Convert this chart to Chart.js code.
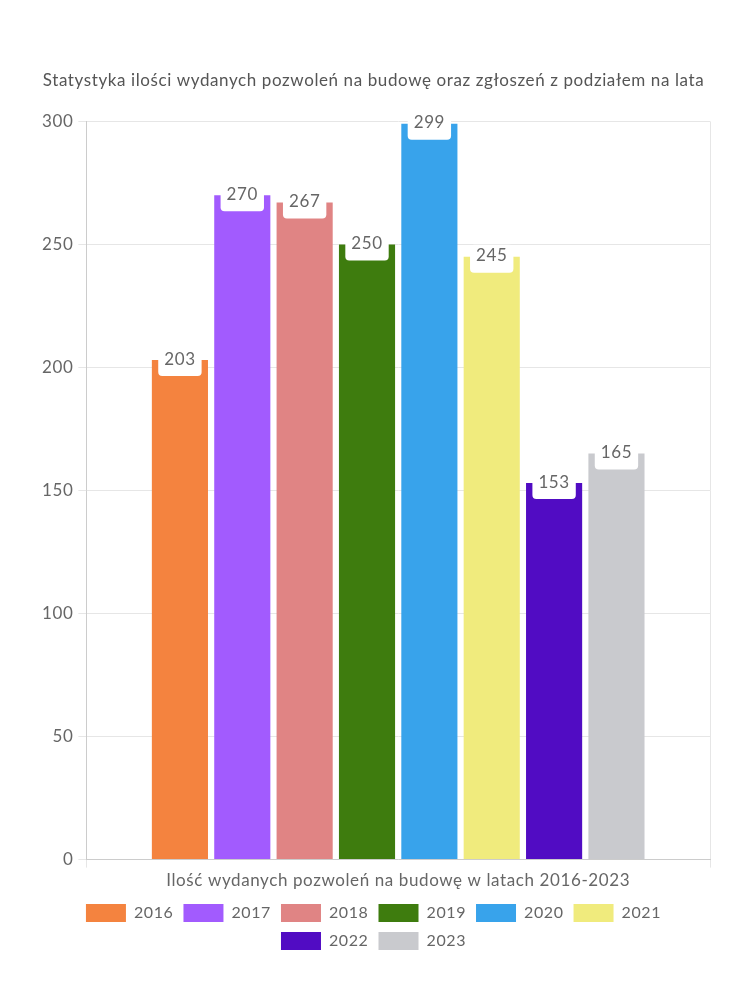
<!DOCTYPE html>
<html><head><meta charset="utf-8">
<script src="https://cdn.jsdelivr.net/npm/chart.js@4/dist/chart.umd.min.js"></script>
<style>html,body{margin:0;padding:0;background:#fff}#wrap{width:750px;height:1000px}</style>
</head><body><div id="wrap"><canvas id="c" width="750" height="1000"></canvas></div>
<script>
const categories = ['Ilość wydanych pozwoleń na budowę w latach 2016-2023'];
const years = ['2016','2017','2018','2019','2020','2021','2022','2023'];
const values = [203, 270, 267, 250, 299, 245, 153, 165];
const colors = ['#f4833f','#a25bfe','#e08484','#3e7c0e','#38a3eb','#f0eb7d','#510cc3','#c9cace'];
const titleText = 'Statystyka ilości wydanych pozwoleń na budowę oraz zgłoszeń z podziałem na lata';

const FONT = 'Lato';
const spacingPlugin = {
  id: 'spacing',
  beforeLayout(chart) { chart.ctx.letterSpacing = '0.6px'; },
  beforeDraw(chart) { chart.ctx.letterSpacing = '0.6px'; }
};
const labelPlugin = {
  id: 'valueLabels',
  afterDatasetsDraw(chart) {
    const ctx = chart.ctx;
    ctx.save();
    ctx.font = '17px ' + FONT;
    ctx.textAlign = 'center';
    ctx.textBaseline = 'middle';
    chart.data.datasets.forEach((ds, i) => {
      const meta = chart.getDatasetMeta(i);
      meta.data.forEach((bar, j) => {
        const txt = String(ds.data[j]);
        const w = ctx.measureText(txt).width + 12;
        const h = 28;
        const x = bar.x, yc = bar.y + 2;
        ctx.fillStyle = '#fff';
        ctx.beginPath();
        ctx.roundRect(x - w/2, yc - h/2, w, h, 4);
        ctx.fill();
        ctx.fillStyle = '#666';
        ctx.fillText(txt, x, bar.y - 1);
      });
    });
    ctx.restore();
  }
};

new Chart(document.getElementById('c'), {
  type: 'bar',
  data: {
    labels: categories,
    datasets: years.map((y, i) => ({ label: y, data: [values[i]], backgroundColor: colors[i] }))
  },
  options: {
    responsive: false,
    animation: false,
    layout: { padding: { top: 70, right: 40, left: 37, bottom: 40 } },
    plugins: {
      title: { display: true, text: titleText, color: '#555', font: { family: FONT, size: 17, weight: 'normal' }, padding: { top: 0, bottom: 31 } },
      legend: { position: 'bottom', labels: { color: '#666', font: { family: FONT, size: 16 }, boxWidth: 40, boxHeight: 18 } },
      tooltip: { enabled: false }
    },
    scales: {
      x: { ticks: { color: '#666', font: { family: FONT, size: 17 } }, grid: { color: '#e6e6e6' }, border: { color: '#ccc' } },
      y: { min: 0, max: 300, ticks: { stepSize: 50, color: '#666', font: { family: FONT, size: 17 }, padding: 5 }, grid: { color: '#e6e6e6' }, border: { color: '#ccc' } }
    }
  },
  plugins: [spacingPlugin, labelPlugin]
});
</script></body></html>
